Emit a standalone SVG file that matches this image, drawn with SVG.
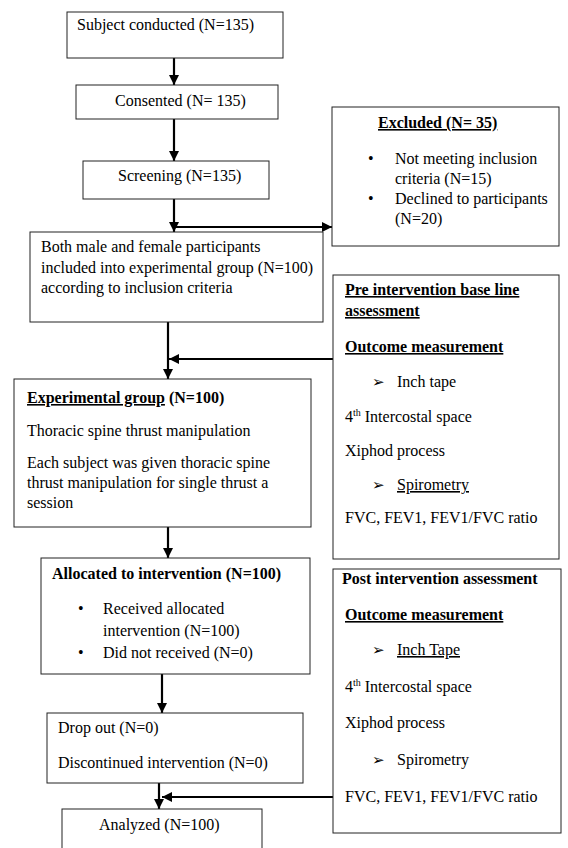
<svg xmlns="http://www.w3.org/2000/svg" width="568" height="848" viewBox="0 0 568 848" font-family="'Liberation Serif','Times New Roman',serif">
<style>
text{font-family:"Liberation Serif","Times New Roman",serif;font-size:16px;fill:#000}
.b{font-weight:bold}
.u{text-decoration:underline}
.box{fill:#fff;stroke:#222;stroke-width:1}
.arr{font-family:"DejaVu Sans",sans-serif;font-size:15px}
.sup{font-size:10px}
.c{stroke:#000;stroke-width:2.2;fill:none}
</style>
<defs>
<marker id="ah" markerUnits="userSpaceOnUse" markerWidth="11" markerHeight="10" refX="10" refY="5" orient="auto">
<path d="M0,0 L10,5 L0,10 z" fill="#000"/>
</marker>
</defs>
<rect width="568" height="848" fill="#fff"/>
<g id="connectors">
<line class="c" x1="174" y1="58" x2="174" y2="85" marker-end="url(#ah)"/>
<line class="c" x1="174" y1="119" x2="174" y2="161" marker-end="url(#ah)"/>
<line class="c" x1="174" y1="199" x2="174" y2="232" marker-end="url(#ah)"/>
<line class="c" x1="174" y1="227" x2="332" y2="227" marker-end="url(#ah)"/>
<line class="c" x1="168" y1="322" x2="168" y2="379" marker-end="url(#ah)"/>
<line class="c" x1="333" y1="359" x2="169" y2="359" marker-end="url(#ah)"/>
<line class="c" x1="168" y1="527" x2="168" y2="558" marker-end="url(#ah)"/>
<line class="c" x1="162" y1="674" x2="162" y2="713" marker-end="url(#ah)"/>
<line class="c" x1="159" y1="783" x2="159" y2="809" marker-end="url(#ah)"/>
<line class="c" x1="333" y1="797" x2="162" y2="797" marker-end="url(#ah)"/>
</g>
<g id="subject">
<rect class="box" x="67" y="12" width="216" height="46"/>
<text x="77" y="30">Subject conducted (N=135)</text>
</g>
<g id="consented">
<rect class="box" x="76" y="85" width="202" height="34"/>
<text x="115" y="106">Consented (N= 135)</text>
</g>
<g id="screening">
<rect class="box" x="83" y="161" width="186" height="38"/>
<text x="118" y="181">Screening (N=135)</text>
</g>
<g id="excluded">
<rect class="box" x="332" y="107" width="227" height="139"/>
<text x="378" y="128" class="b u">Excluded (N= 35)</text>
<text x="368" y="164">•</text>
<text x="395" y="164">Not meeting inclusion</text>
<text x="395" y="184">criteria (N=15)</text>
<text x="368" y="204">•</text>
<text x="395" y="204">Declined to participants</text>
<text x="395" y="224">(N=20)</text>
</g>
<g id="included">
<rect class="box" x="30" y="232" width="293" height="90"/>
<text x="41" y="252">Both male and female participants</text>
<text x="41" y="273">included into experimental group (N=100)</text>
<text x="41" y="293">according to inclusion criteria</text>
</g>
<g id="pre">
<rect class="box" x="333" y="275" width="226" height="284"/>
<text x="345" y="295" class="b u">Pre intervention base line</text>
<text x="345" y="316" class="b u">assessment</text>
<text x="345" y="352" class="b u">Outcome measurement</text>
<text x="372" y="387" class="arr">➢</text>
<text x="397" y="387">Inch tape</text>
<text x="345" y="422">4<tspan class="sup" dy="-6">th</tspan><tspan dy="6"> Intercostal space</tspan></text>
<text x="345" y="456">Xiphod process</text>
<text x="372" y="490" class="arr">➢</text>
<text x="397" y="490" class="u">Spirometry</text>
<text x="345" y="523">FVC, FEV1, FEV1/FVC ratio</text>
</g>
<g id="experimental">
<rect class="box" x="14" y="379" width="297" height="148"/>
<text x="27" y="403"><tspan class="b u">Experimental group</tspan><tspan class="b"> (N=100)</tspan></text>
<text x="27" y="436">Thoracic spine thrust manipulation</text>
<text x="27" y="468">Each subject was given thoracic spine</text>
<text x="27" y="488">thrust manipulation for single thrust a</text>
<text x="27" y="508">session</text>
</g>
<g id="allocated">
<rect class="box" x="41" y="558" width="269" height="116"/>
<text x="52" y="579" class="b">Allocated to intervention (N=100)</text>
<text x="78" y="614">•</text>
<text x="103" y="614">Received allocated</text>
<text x="103" y="636">intervention  (N=100)</text>
<text x="78" y="658">•</text>
<text x="103" y="658">Did not received (N=0)</text>
</g>
<g id="post">
<rect class="box" x="333" y="569" width="228" height="264"/>
<text x="342" y="584" class="b">Post intervention assessment</text>
<text x="345" y="620" class="b u">Outcome measurement</text>
<text x="372" y="655" class="arr">➢</text>
<text x="397" y="655" class="u">Inch Tape</text>
<text x="345" y="692">4<tspan class="sup" dy="-6">th</tspan><tspan dy="6"> Intercostal space</tspan></text>
<text x="345" y="728">Xiphod process</text>
<text x="372" y="765" class="arr">➢</text>
<text x="397" y="765">Spirometry</text>
<text x="345" y="802">FVC, FEV1, FEV1/FVC ratio</text>
</g>
<g id="dropout">
<rect class="box" x="47" y="713" width="256" height="70"/>
<text x="58" y="733">Drop out (N=0)</text>
<text x="58" y="768">Discontinued intervention (N=0)</text>
</g>
<g id="analyzed">
<rect class="box" x="62" y="809" width="200" height="50"/>
<text x="99" y="830">Analyzed (N=100)</text>
</g>
</svg>
